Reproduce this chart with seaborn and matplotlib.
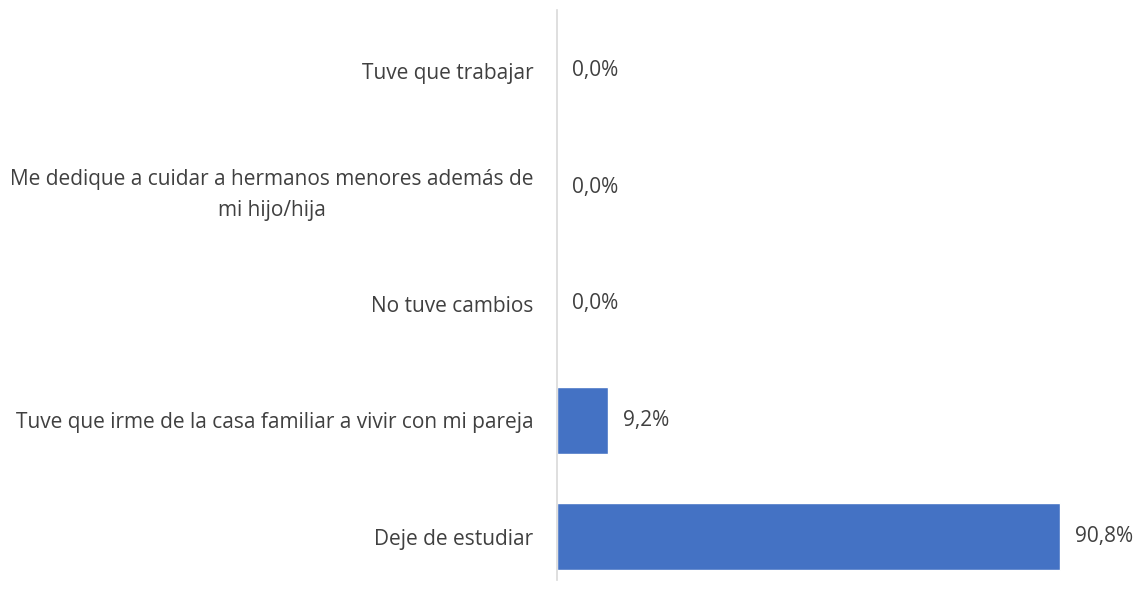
import matplotlib
matplotlib.use('Agg')
import matplotlib.pyplot as plt
import seaborn as sns
import pandas as pd

# Data
categories = [
    'Tuve que trabajar',
    'Me dedique a cuidar a hermanos menores además de\nmi hijo/hija',
    'No tuve cambios',
    'Tuve que irme de la casa familiar a vivir con mi pareja',
    'Deje de estudiar',
]
values = [0.0, 0.0, 0.0, 9.2, 90.8]

sns.set_style('white')
plt.rcParams['font.family'] = ['Open Sans', 'DejaVu Sans']

df = pd.DataFrame({'cat': categories, 'val': values})

fig = plt.figure(figsize=(11.38, 5.91), dpi=100)
ax = fig.add_axes([557 / 1138, 0, (1111 - 557) / 1138, 1 - 12 / 591])

sns.barplot(data=df, x='val', y='cat', orient='h', color='#4472C4',
            width=0.575, saturation=1, ax=ax)

ax.set_xlim(0, 100)
ax.set_ylim(4.464, -0.506)
ax.set_xlabel('')
ax.set_ylabel('')
ax.set_xticks([])
ax.tick_params(axis='y', length=0, pad=17, labelsize=15, labelcolor='#404040')
for lbl in ax.get_yticklabels():
    lbl.set_multialignment('center')
    lbl.set_linespacing(1.6)

for s in ['top', 'right', 'bottom']:
    ax.spines[s].set_visible(False)
ax.spines['left'].set_color('#D9D9D9')
ax.spines['left'].set_linewidth(1.2)
ax.spines['left'].set_bounds(4.37, -0.52)

labels = [f"{v:.1f}%".replace('.', ',') for v in values]
ax.bar_label(ax.containers[0], labels=labels, padding=11,
             fontsize=15, color='#404040')

fig.savefig('out.png', dpi=100)
